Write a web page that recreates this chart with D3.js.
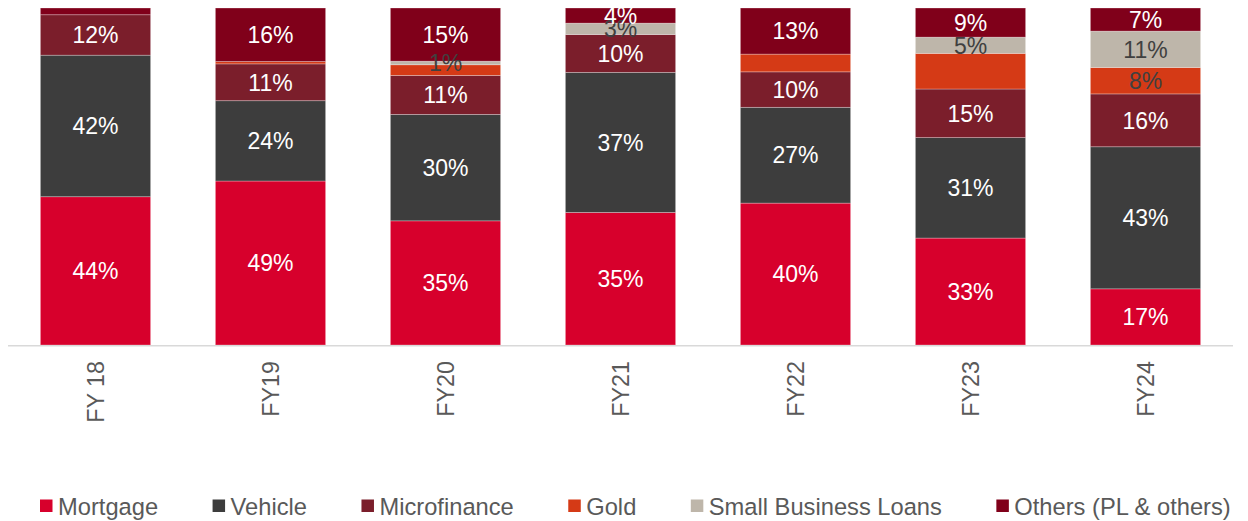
<!DOCTYPE html>
<html>
<head>
<meta charset="utf-8">
<script src="https://cdn.jsdelivr.net/npm/d3@7"></script>
<style>
  html, body { margin: 0; padding: 0; background: #fff; }
  svg { display: block; font-family: "Liberation Sans", Arial, sans-serif; }
</style>
</head>
<body>
<svg id="chart" width="1248" height="521"></svg>
<script>
// ---- data ----
const categories = ["FY 18", "FY19", "FY20", "FY21", "FY22", "FY23", "FY24"];
const seriesNames = ["Mortgage", "Vehicle", "Microfinance", "Gold", "Small Business Loans", "Others (PL & others)"];
const mortgage      = [44, 49, 35, 35, 40, 33, 17];
const vehicle       = [42, 24, 30, 37, 27, 31, 43];
const microfinance  = [12, 11, 11, 10, 10, 15, 16];
const gold          = [0, 0.7, 3, 0, 5, 11, 8];
const smallBusiness = [0, 0, 1, 3, 0, 5, 11];
const others        = [2, 16, 15, 4, 13, 9, 7];
// which data labels are shown in the reference
const showMortgage  = [1, 1, 1, 1, 1, 1, 1];
const showVehicle   = [1, 1, 1, 1, 1, 1, 1];
const showMicro     = [1, 1, 1, 1, 1, 1, 1];
const showGold      = [0, 0, 0, 0, 0, 0, 1];
const showSmall     = [0, 0, 1, 1, 0, 1, 1];
const showOthers    = [0, 1, 1, 1, 1, 1, 1];

const colors = ["#D7002C", "#3D3D3D", "#7B1E2B", "#D53A16", "#BEB6AA", "#80001A"];
const labelColors = ["#ffffff", "#ffffff", "#ffffff", "#404040", "#404040", "#ffffff"];

const seriesValues = [mortgage, vehicle, microfinance, gold, smallBusiness, others];
const seriesShow = [showMortgage, showVehicle, showMicro, showGold, showSmall, showOthers];

// ---- build table ----
const rows = categories.map((c, i) => {
  const r = { cat: c };
  seriesNames.forEach((s, k) => { r[s] = seriesValues[k][i]; });
  return r;
});

const stack = d3.stack().keys(seriesNames).offset(d3.stackOffsetExpand);
const stacked = stack(rows);

const svg = d3.select("#chart");

const x = d3.scaleBand().domain(categories).range([8, 1233]).paddingInner(0.37).paddingOuter(0.185);
const y = d3.scaleLinear().domain([0, 1]).range([345, 8]);

// bars
const layers = svg.append("g").selectAll("g")
  .data(stacked).join("g")
  .attr("fill", (d, k) => colors[k]);

layers.selectAll("rect")
  .data(d => d.map(p => ({ p, key: d.key })))
  .join("rect")
  .attr("x", d => x(d.p.data.cat))
  .attr("width", x.bandwidth())
  .attr("y", d => y(d.p[1]))
  .attr("height", d => Math.max(0, y(d.p[0]) - y(d.p[1])))
  .attr("stroke", "rgba(255,255,255,0.35)")
  .attr("stroke-width", 0.8);

// x axis line
svg.append("line")
  .attr("x1", x.range()[0]).attr("x2", x.range()[1])
  .attr("y1", 345.8).attr("y2", 345.8)
  .attr("stroke", "#D9D9D9").attr("stroke-width", 1.5);

// data labels
stacked.forEach((layer, k) => {
  const g = svg.append("g");
  layer.forEach((p, i) => {
    if (!seriesShow[k][i]) return;
    const v = seriesValues[k][i];
    g.append("text")
      .attr("x", x(p.data.cat) + x.bandwidth() / 2)
      .attr("y", (y(p[0]) + y(p[1])) / 2)
      .attr("dy", "0.36em")
      .attr("text-anchor", "middle")
      .attr("fill", labelColors[k])
      .attr("font-size", 23)
      .text(Math.round(v) + "%");
  });
});

// category labels (rotated)
svg.append("g").selectAll("text")
  .data(categories).join("text")
  .attr("transform", d => `translate(${x(d) + x.bandwidth() / 2},361) rotate(-90)`)
  .attr("dy", "0.36em")
  .attr("text-anchor", "end")
  .attr("fill", "#595959")
  .attr("font-size", 23.3)
  .text(d => d);

// legend
const legend = svg.append("g");
let lx = 40;
seriesNames.forEach((s, k) => {
  legend.append("rect")
    .attr("x", lx).attr("y", 499.5)
    .attr("width", 12.5).attr("height", 12.5)
    .attr("fill", colors[k]);
  const t = legend.append("text")
    .attr("x", lx + 18).attr("y", 506)
    .attr("dy", "0.36em")
    .attr("fill", "#595959")
    .attr("font-size", 23.7)
    .text(s);
  lx = lx + 18 + t.node().getComputedTextLength() + 54.5;
});
</script>
</body>
</html>
